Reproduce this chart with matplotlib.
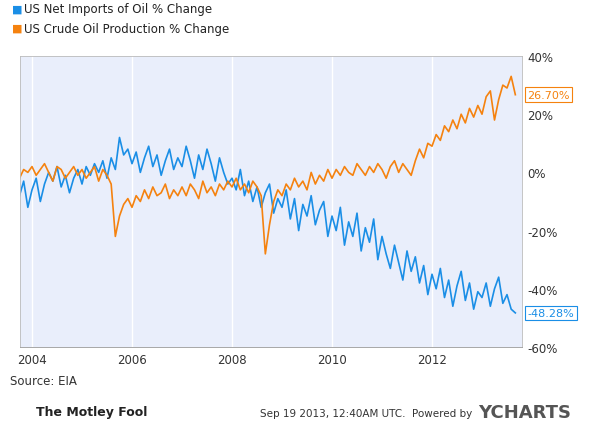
import matplotlib
matplotlib.use("Agg")
import matplotlib.pyplot as plt
import numpy as np

blue_vals = [-8,-3,-12,
 -6,-2,-10,-4,0,-3,2,-5,-1,-7,-2,1,
 -4,2,-1,3,0,4,-2,5,1,12,6,8,
 3,7,0,5,9,2,6,-1,4,8,1,5,
 2,9,4,-2,6,1,8,3,-3,5,0,-4,
 -2,-6,1,-8,-3,-10,-5,-12,-7,-4,-14,-9,
 -12,-6,-16,-9,-20,-11,-15,-8,-18,-13,-10,-22,
 -15,-20,-12,-25,-17,-22,-14,-27,-19,-24,-16,-30,
 -22,-28,-33,-25,-31,-37,-27,-34,-29,-38,-32,-42,
 -35,-40,-33,-43,-37,-46,-39,-34,-44,-38,-47,-41,
 -43,-38,-46,-40,-36,-45,-42,-47,-48.28]
orange_vals = [-2,1,0,
 2,-1,1,3,0,-3,2,1,-2,0,2,-1,
 1,-2,0,2,-3,1,-1,-4,-22,-15,-11,-9,
 -12,-8,-10,-6,-9,-5,-8,-7,-4,-9,-6,-8,
 -5,-8,-4,-6,-9,-3,-7,-5,-8,-4,-6,-3,
 -5,-2,-6,-4,-7,-3,-5,-8,-28,-18,-10,-6,
 -8,-4,-6,-2,-5,-3,-6,0,-4,-1,-3,1,
 -2,1,-1,2,0,-1,3,1,-1,2,0,3,
 1,-2,2,4,0,3,1,-1,4,8,5,10,
 9,13,11,16,14,18,15,20,17,22,19,23,
 20,26,28,18,25,30,29,33,26.7]
start_year = 2003.75
x_ticks = [2004, 2006, 2008, 2010, 2012]
y_ticks = [40, 20, 0, -20, -40, -60]
blue_name = "US Net Imports of Oil % Change"
orange_name = "US Crude Oil Production % Change"

dates = start_year + np.arange(len(blue_vals)) / 12
BLUE = "#1a8ee6"; ORANGE = "#f5820f"

fig = plt.figure(figsize=(5.9, 4.35), dpi=100)
ax = fig.add_axes([20/590, 1-348/435, (522-20)/590, (348-57)/435])
ax.set_facecolor("#e9eefb")
ax.plot(dates, blue_vals, color=BLUE, lw=1.2)
ax.plot(dates, orange_vals, color=ORANGE, lw=1.2)
ax.set_xlim(2003.76, 2013.8)
ax.set_ylim(-60, 40)
ax.set_xticks(x_ticks)
ax.set_xticklabels([str(t) for t in x_ticks], fontsize=8.5, color="#333")
ax.set_yticks(y_ticks)
ax.set_yticklabels([f"{t}%" for t in y_ticks], fontsize=8.5, color="#333")
ax.yaxis.tick_right()
ax.tick_params(length=0, pad=4)
ax.grid(axis="x", color="white", lw=1)
for s in ax.spines.values():
    s.set_color("#bbb"); s.set_linewidth(0.6)
ax.spines["bottom"].set_color("#999")

for v, c in [(orange_vals[-1], ORANGE), (blue_vals[-1], BLUE)]:
    ax.annotate(f"{v:.2f}%", xy=(1.0, v), xycoords=("axes fraction", "data"),
                xytext=(4, 0), textcoords="offset points", va="center", fontsize=8,
                color=c, bbox=dict(boxstyle="square,pad=0.2", fc="white", ec=c, lw=0.8))

fig.text(12/590, 1-10/435, "■", color=BLUE, fontsize=8, va="center")
fig.text(24/590, 1-10/435, blue_name, fontsize=8.5, va="center", color="#222")
fig.text(12/590, 1-29/435, "■", color=ORANGE, fontsize=8, va="center")
fig.text(24/590, 1-29/435, orange_name, fontsize=8.5, va="center", color="#222")
fig.text(10/590, 1-382/435, "Source: EIA", fontsize=8.5, color="#333", va="center")
fig.text(36/590, 1-413/435, "The Motley Fool", fontsize=9, weight="bold", color="#222", va="center")
fig.text(472/590, 1-414/435, "Sep 19 2013, 12:40AM UTC.  Powered by", fontsize=7.5,
         color="#333", va="center", ha="right")
fig.text(478/590, 1-413/435, "YCHARTS", fontsize=13, weight="bold", color="#555", va="center")
fig.savefig("out.png", dpi=100, facecolor="white")
